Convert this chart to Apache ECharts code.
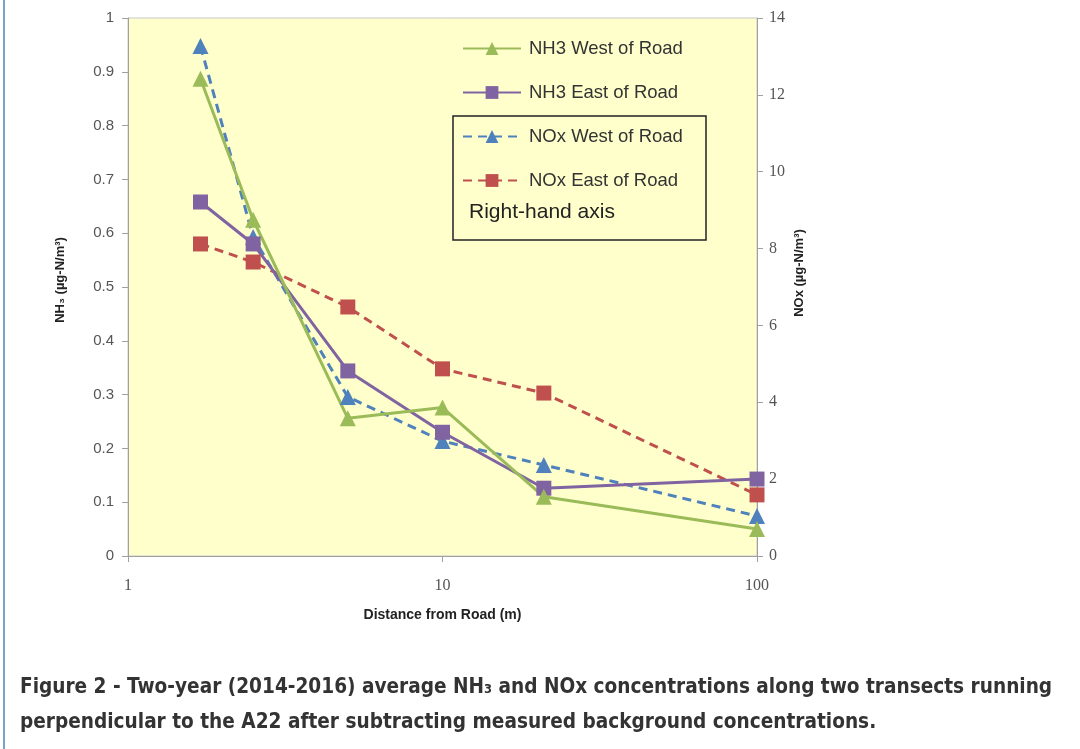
<!DOCTYPE html>
<html>
<head>
<meta charset="utf-8">
<script src="https://cdn.jsdelivr.net/npm/echarts@6/dist/echarts.min.js"></script>
<style>
  html, body { margin: 0; padding: 0; background: #fff; }
  #chart { width: 1080px; height: 749px; }
</style>
</head>
<body>
<div id="chart"></div>
<script>
// distances (m) along the transect
var distance = [1.7, 2.5, 5, 10, 21, 100];

// NH3, left axis (ug-N/m3)
var nh3West = [0.887, 0.625, 0.256, 0.276, 0.11, 0.05];
var nh3East = [0.658, 0.58, 0.344, 0.23, 0.126, 0.143];

// NOx, right axis (ug-N/m3)
var noxWest = [13.27, 8.3, 4.14, 2.99, 2.37, 1.04];
var noxEast = [8.12, 7.65, 6.48, 4.87, 4.24, 1.59];

var seriesNames = ['NH3 West of Road', 'NH3 East of Road', 'NOx West of Road', 'NOx East of Road'];

function pairs(vals) {
    return distance.map(function (d, i) { return [d, vals[i]]; });
}

var myChart = echarts.init(document.getElementById('chart'));

var labelFont = 'Liberation Sans';

var option = {
    animation: false,
    grid: {
        left: 128, right: 323, top: 18, bottom: 193,
        show: true,
        backgroundColor: '#FFFFCC',
        borderColor: '#c8c8c8',
        borderWidth: 1
    },
    legend: {
        orient: 'vertical',
        left: 457,
        top: 34,
        itemWidth: 58,
        itemHeight: 16,
        itemGap: 25,
        data: seriesNames,
        textStyle: { fontFamily: labelFont, fontSize: 18.5, color: '#333', padding: [0, 0, 0, 3] }
    },
    xAxis: {
        type: 'log',
        logBase: 10,
        min: 1,
        max: 100,
        name: 'Distance from Road (m)',
        nameLocation: 'middle',
        nameGap: 52,
        nameTextStyle: { fontFamily: labelFont, fontWeight: 'bold', fontSize: 14, color: '#222' },
        axisLine: { lineStyle: { color: '#a0a0a0' } },
        axisTick: { show: true, length: 6, lineStyle: { color: '#a0a0a0' } },
        minorTick: { show: false },
        splitLine: { show: false },
        axisLabel: { fontFamily: 'Liberation Serif', fontSize: 16, color: '#555', margin: 22 }
    },
    yAxis: [{
        type: 'value',
        min: 0,
        max: 1,
        interval: 0.1,
        position: 'left',
        axisLine: { show: true, lineStyle: { color: '#a0a0a0' } },
        axisTick: { show: true, length: 6, lineStyle: { color: '#a0a0a0' } },
        splitLine: { show: false },
        axisLabel: { fontFamily: labelFont, fontSize: 15, color: '#555', margin: 14 }
    }, {
        type: 'value',
        min: 0,
        max: 14,
        interval: 2,
        position: 'right',
        axisLine: { show: true, lineStyle: { color: '#a0a0a0' } },
        axisTick: { show: true, length: 6, lineStyle: { color: '#a0a0a0' } },
        splitLine: { show: false },
        axisLabel: { fontFamily: 'Liberation Serif', fontSize: 16, color: '#555', margin: 12 }
    }],
    series: [{
        name: 'NOx East of Road',
        type: 'line',
        yAxisIndex: 1,
        data: pairs(noxEast),
        symbol: 'rect',
        symbolSize: 15,
        color: '#C0504D',
        lineStyle: { width: 3, type: [9, 6] }
    }, {
        name: 'NOx West of Road',
        type: 'line',
        yAxisIndex: 1,
        data: pairs(noxWest),
        symbol: 'triangle',
        symbolSize: 16,
        color: '#4F81BD',
        lineStyle: { width: 3, type: [9, 6] }
    }, {
        name: 'NH3 East of Road',
        type: 'line',
        yAxisIndex: 0,
        data: pairs(nh3East),
        symbol: 'rect',
        symbolSize: 15,
        color: '#8064A2',
        lineStyle: { width: 3 }
    }, {
        name: 'NH3 West of Road',
        type: 'line',
        yAxisIndex: 0,
        data: pairs(nh3West),
        symbol: 'triangle',
        symbolSize: 16,
        color: '#9BBB59',
        lineStyle: { width: 3 }
    }],
    graphic: [{
        type: 'line',
        shape: { x1: 4, y1: 0, x2: 4, y2: 749 },
        style: { stroke: '#4F81BD', lineWidth: 1.5 }
    }, {
        type: 'text',
        x: 60,
        y: 280,
        rotation: Math.PI / 2,
        style: {
            text: 'NH\u2083 (\u00b5g-N/m\u00b3)',
            font: 'bold 13px "Liberation Sans"',
            fill: '#222',
            align: 'center',
            verticalAlign: 'middle'
        }
    }, {
        type: 'text',
        x: 799,
        y: 273,
        rotation: Math.PI / 2,
        style: {
            text: 'NOx (\u00b5g-N/m\u00b3)',
            font: 'bold 13px "Liberation Sans"',
            fill: '#222',
            align: 'center',
            verticalAlign: 'middle'
        }
    }, {
        type: 'rect',
        shape: { x: 453, y: 116, width: 253, height: 124 },
        style: { fill: null, stroke: '#222', lineWidth: 1.5 },
        z: 50
    }, {
        type: 'text',
        left: 469,
        top: 202,
        style: { text: 'Right-hand axis', font: '21px "Liberation Sans"', fill: '#222' },
        z: 50
    }, {
        type: 'text',
        left: 20,
        top: 670,
        style: {
            text: 'Figure 2 - Two-year (2014-2016) average NH\u2083 and NOx concentrations along two transects running\nperpendicular to the A22 after subtracting measured background concentrations.',
            font: 'bold 20.6px "DejaVu Sans Condensed", sans-serif',
            lineHeight: 35,
            fill: '#333'
        }
    }]
};

myChart.setOption(option);
</script>
</body>
</html>
